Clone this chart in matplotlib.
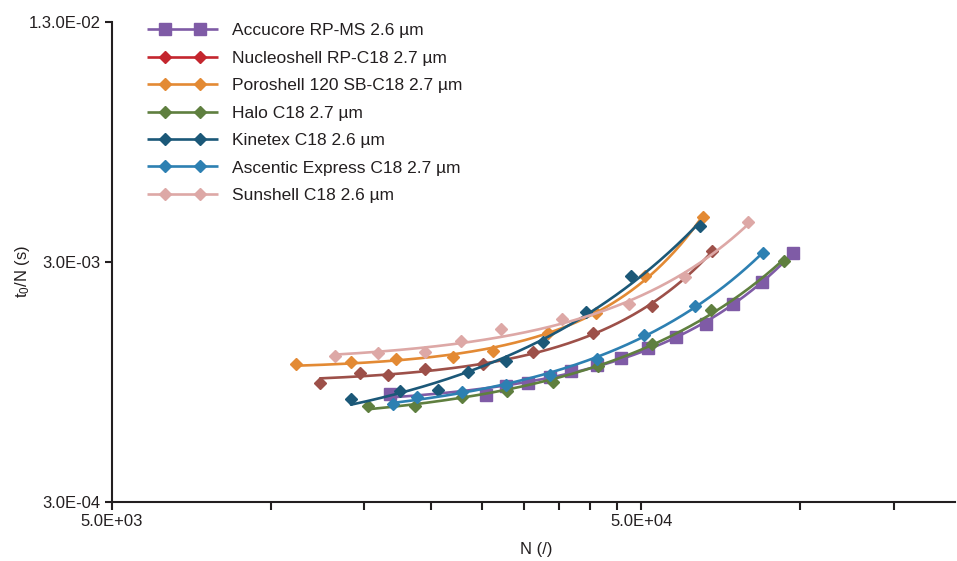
import numpy as np
import matplotlib
matplotlib.use("Agg")
import matplotlib.pyplot as plt
from matplotlib.lines import Line2D
from matplotlib.legend_handler import HandlerBase
import matplotlib.ticker as mticker

plt.rcParams["font.family"] = ["Liberation Sans", "DejaVu Sans"]
plt.rcParams["mathtext.fontset"] = "custom"
plt.rcParams["mathtext.rm"] = "Liberation Sans"
plt.rcParams["mathtext.default"] = "regular"

# ── Data ─────────────────────────────────────────────────────────────────────
labels = ["Accucore RP-MS 2.6 µm", "Nucleoshell RP-C18 2.7 µm",
          "Poroshell 120 SB-C18 2.7 µm", "Halo C18 2.7 µm",
          "Kinetex C18 2.6 µm", "Ascentic Express C18 2.7 µm",
          "Sunshell C18 2.6 µm"]

accucore_n = [16770, 25470, 27780, 30570, 33650, 36870, 41280, 45840,
              51550, 58240, 66360, 74660, 84630, 96900]
accucore_t = [8.45e-4, 8.41e-4, 9.13e-4, 9.40e-4, 9.95e-4, 1.054e-3, 1.122e-3,
              1.189e-3, 1.315e-3, 1.461e-3, 1.655e-3, 2.005e-3, 2.488e-3, 3.27e-3]

nucleo_n = [12370, 14720, 16630, 19530, 25140, 31250, 40570, 52460, 68110]
nucleo_t = [9.37e-4, 1.037e-3, 1.014e-3, 1.070e-3, 1.127e-3, 1.262e-3,
            1.514e-3, 1.976e-3, 3.343e-3]

poro_n = [11140, 14150, 17210, 22060, 26250, 33360, 41110, 50880, 65490]
poro_t = [1.127e-3, 1.149e-3, 1.180e-3, 1.202e-3, 1.281e-3, 1.514e-3,
          1.839e-3, 2.630e-3, 4.62e-3]

halo_n = [15240, 18690, 22940, 27900, 34090, 41470, 52460, 67660, 93200]
halo_t = [7.50e-4, 7.54e-4, 8.24e-4, 8.70e-4, 9.49e-4, 1.101e-3, 1.372e-3,
          1.884e-3, 3.029e-3]

kinetex_n = [14150, 17510, 20660, 23550, 27780, 32640, 39350, 47870, 64640]
kinetex_t = [8.04e-4, 8.74e-4, 8.79e-4, 1.047e-3, 1.160e-3, 1.388e-3,
             1.862e-3, 2.623e-3, 4.25e-3]

ascentic_n = [16990, 18860, 22940, 27780, 33650, 41280, 50660, 63240, 85050]
ascentic_t = [7.65e-4, 8.21e-4, 8.64e-4, 9.26e-4, 1.019e-3, 1.183e-3,
              1.496e-3, 1.958e-3, 3.28e-3]

sunshell_n = [13200, 15920, 19530, 22840, 27120, 35460, 47460, 60560, 79710]
sunshell_t = [1.214e-3, 1.249e-3, 1.262e-3, 1.400e-3, 1.574e-3, 1.736e-3,
              1.999e-3, 2.591e-3, 4.42e-3]

series_n = [accucore_n, nucleo_n, poro_n, halo_n, kinetex_n, ascentic_n, sunshell_n]
series_t = [accucore_t, nucleo_t, poro_t, halo_t, kinetex_t, ascentic_t, sunshell_t]

# plot colours / legend colours (Nucleoshell legend is brighter red than its curve)
line_colors = ["#7F5BA6", "#9D5049", "#E38A34", "#5F7F3F", "#1B5878", "#2D80B2", "#DDA8A6"]
legend_colors = ["#7F5BA6", "#C4262E", "#E38A34", "#5F7F3F", "#1B5878", "#2D80B2", "#DDA8A6"]
markers = ["s", "D", "D", "D", "D", "D", "D"]
msizes = [8.4, 6.3, 6.3, 6.3, 6.3, 6.3, 6.3]

INK = "#231F20"


def trend(x, y, n=200):
    """Monotone fitted curve: log10(t) = a + b*(N/1e4)**p, best p by grid search."""
    x = np.asarray(x, float)
    ly = np.log10(y)
    best = None
    for p in np.linspace(0.3, 6, 115):
        X = np.column_stack([np.ones_like(x), (x / 1e4) ** p])
        coef, *_ = np.linalg.lstsq(X, ly, rcond=None)
        res = np.sum((X @ coef - ly) ** 2)
        if best is None or res < best[0]:
            best = (res, p, coef)
    _, p, coef = best
    gx = np.logspace(np.log10(x.min()), np.log10(x.max()), n)
    return gx, 10 ** (coef[0] + coef[1] * (gx / 1e4) ** p)


class PairHandler(HandlerBase):
    """Legend handle: full-width line with two markers inset."""
    def create_artists(self, legend, orig_handle, xdescent, ydescent,
                       width, height, fontsize, trans):
        y = height / 2 - ydescent
        x0 = -xdescent
        ln = Line2D([x0, x0 + width], [y, y], color=orig_handle.get_color(),
                    lw=orig_handle.get_linewidth(), solid_capstyle="butt")
        mk = Line2D([x0 + 0.25 * width, x0 + 0.75 * width], [y, y], ls="none",
                    marker=orig_handle.get_marker(), ms=orig_handle.get_markersize(),
                    color=orig_handle.get_color(), mec=orig_handle.get_color())
        ln.set_transform(trans)
        mk.set_transform(trans)
        return [ln, mk]


W, H = 957, 561
fig = plt.figure(figsize=(W / 100, H / 100), dpi=100)
ax = fig.add_axes([112 / W, (H - 502) / H, (955 - 112) / W, (502 - 22) / H])

for n, t, c, m, ms in zip(series_n, series_t, line_colors, markers, msizes):
    sx, sy = trend(n, t)
    ax.plot(sx, sy, color=c, lw=1.9, solid_capstyle="round")
    ax.plot(n, t, ls="none", marker=m, ms=ms, color=c, mec=c)

ax.set_xscale("log")
ax.set_yscale("log")
ax.set_xlim(5e3, 1.96e5)
ax.set_ylim(3e-4, 3e-2)

ax.xaxis.set_major_locator(mticker.FixedLocator([5e3, 5e4]))
ax.xaxis.set_major_formatter(mticker.FixedFormatter(["5.0E+03", "5.0E+04"]))
ax.xaxis.set_minor_locator(mticker.FixedLocator(
    [1e4, 1.5e4, 2e4, 2.5e4, 3e4, 3.5e4, 4e4, 4.5e4, 1e5, 1.5e5]))
ax.xaxis.set_minor_formatter(mticker.NullFormatter())
ax.yaxis.set_major_locator(mticker.FixedLocator([3e-4, 3e-3, 3e-2]))
ax.yaxis.set_major_formatter(mticker.FixedFormatter(["3.0E-04", "3.0E-03", "1.3.0E-02"]))
ax.yaxis.set_minor_locator(mticker.NullLocator())

for s in ["top", "right"]:
    ax.spines[s].set_visible(False)
for s in ["left", "bottom"]:
    ax.spines[s].set_linewidth(1.5)
    ax.spines[s].set_color(INK)

ax.tick_params(which="both", direction="out", length=6, width=1.5,
               color=INK, labelcolor=INK, labelsize=12, pad=3)
ax.tick_params(axis="y", length=5)

ax.set_xlabel("N (/)", fontsize=12, color=INK)
ax.xaxis.set_label_coords(0.503, -0.083)
ax.set_ylabel(r"t$_0$/N (s)", fontsize=12, color=INK)
ax.yaxis.set_label_coords(-0.095, 0.48)

handles = [Line2D([], [], color=c, lw=1.9, marker=m, ms=ms)
           for c, m, ms in zip(legend_colors, markers, msizes)]
leg = ax.legend(handles, labels, loc="upper left",
                bbox_to_anchor=(147 / W, 1 - 23 / H), bbox_transform=fig.transFigure,
                frameon=False, fontsize=12.5, borderpad=0, borderaxespad=0,
                handlelength=4.1, handletextpad=0.8, labelspacing=0.71,
                handler_map={Line2D: PairHandler()})
for txt in leg.get_texts():
    txt.set_color(INK)

fig.savefig("out.png", dpi=100)
